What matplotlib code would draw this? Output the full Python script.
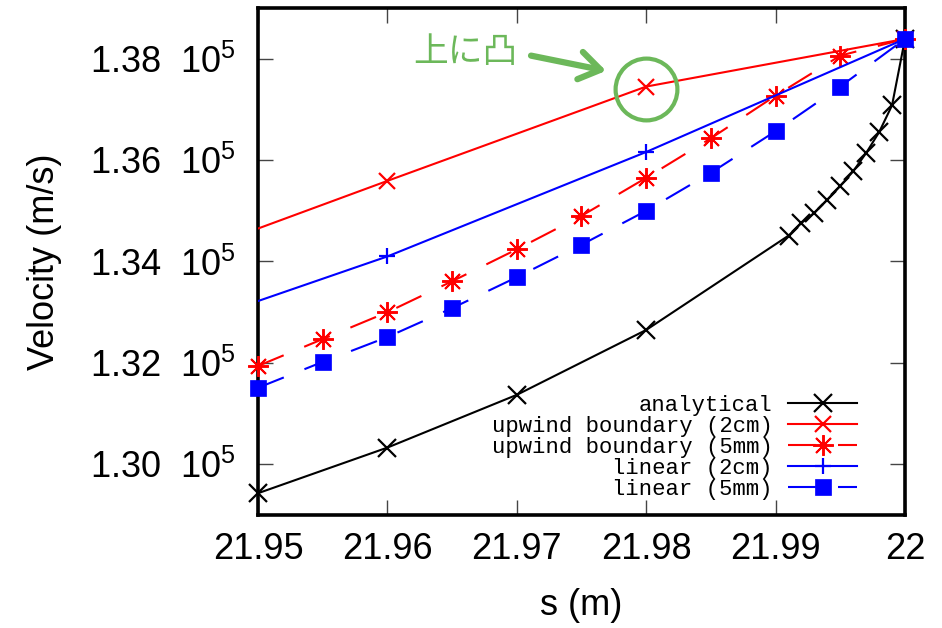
import matplotlib
matplotlib.use("Agg")
import matplotlib.pyplot as plt

plt.rcParams['font.family'] = ['Liberation Sans', 'DejaVu Sans']
plt.rcParams['mathtext.default'] = 'regular'
plt.rcParams['lines.scale_dashes'] = False

# values (velocity in m/s)
s_analytical = [21.95, 21.96, 21.97, 21.98, 21.991, 21.992, 21.993, 21.994,
                21.995, 21.996, 21.997, 21.998, 21.999, 22.0]
v_analytical = [1.2943e5, 1.3033e5, 1.3137e5, 1.3265e5, 1.3451e5, 1.3476e5,
                1.3496e5, 1.3522e5, 1.3549e5, 1.3578e5, 1.3614e5, 1.3655e5,
                1.3708e5, 1.3839e5]

s_2cm = [21.94, 21.96, 21.98, 22.0]
v_upwind_2cm = [1.3371e5, 1.3559e5, 1.3745e5, 1.3839e5]
v_linear_2cm = [1.3234e5, 1.3410e5, 1.3616e5, 1.3839e5]

s_5mm = [21.95, 21.955, 21.96, 21.965, 21.97, 21.975, 21.98, 21.985, 21.99,
         21.995, 22.0]
v_upwind_5mm = [1.3194e5, 1.3247e5, 1.3300e5, 1.3361e5, 1.3424e5, 1.3490e5,
                1.3565e5, 1.3643e5, 1.3727e5, 1.3806e5, 1.3839e5]
v_linear_5mm = [1.3151e5, 1.3202e5, 1.3251e5, 1.3308e5, 1.3369e5, 1.3433e5,
                1.3500e5, 1.3575e5, 1.3657e5, 1.3745e5, 1.3839e5]

x_ticks = [21.95, 21.96, 21.97, 21.98, 21.99, 22.0]
x_labels = ['21.95', '21.96', '21.97', '21.98', '21.99', '22']
y_ticks = [1.30e5, 1.32e5, 1.34e5, 1.36e5, 1.38e5]

green = '#6cb85a'
dash = (20, 16)

fig = plt.figure(figsize=(9.42, 6.28), dpi=100)
ax = fig.add_axes([0.2739, 0.1799, 0.6868, 0.8074])

ax.plot(s_analytical, v_analytical, color='black', lw=1.5, marker='x', ms=12.5,
        mew=1.6, clip_on=False, zorder=3, label='analytical')
ax.plot(s_2cm, v_upwind_2cm, color='red', lw=1.5, marker='x', ms=12, mew=1.6,
        zorder=3, label='upwind boundary (2cm)')
ax.plot(s_5mm, v_upwind_5mm, color='red', lw=1.5, marker=(8, 2, 0), ms=15,
        mew=1.4, dashes=dash, clip_on=False, zorder=3,
        label='upwind boundary (5mm)')
ax.plot(s_2cm, v_linear_2cm, color='blue', lw=1.5, marker='+', ms=12, mew=1.6,
        zorder=3, label='linear (2cm)')
ax.plot(s_5mm, v_linear_5mm, color='blue', lw=1.5, marker='s', ms=11.5,
        mew=0.5, dashes=dash, clip_on=False, zorder=3, label='linear (5mm)')

ax.set_xlim(21.95, 22.0)
ax.set_ylim(1.29e5, 1.39e5)
ax.set_xticks(x_ticks)
ax.set_xticklabels(x_labels)
ax.set_yticks(y_ticks)
ax.set_yticklabels([f"{v / 1e5:.2f}  10$^5$" for v in y_ticks])
ax.tick_params(direction='in', length=11, width=1, color='#444',
               labelsize=26, top=True, right=True)
ax.tick_params(axis='x', pad=12)
ax.tick_params(axis='y', pad=16)
for sp in ax.spines.values():
    sp.set_linewidth(2.6)

ax.set_xlabel('s (m)', fontsize=26, labelpad=15)
ax.set_ylabel('Velocity (m/s)', fontsize=26, labelpad=20)

leg = ax.legend(loc='lower right', bbox_to_anchor=(0.943, 0.008), frameon=False,
                markerfirst=False, numpoints=1, handlelength=3.1,
                handletextpad=0.7, labelspacing=0.0, borderpad=0,
                prop={'family': 'Liberation Mono', 'size': 16})

# annotation: upward convex
ax.text(21.966, 1.3812e5, '上に凸', color=green, fontsize=25,
        family=['Noto Sans CJK JP', 'DejaVu Sans'], ha='center', va='center')
ax.annotate('', xy=(21.9769, 1.3776e5), xytext=(21.9711, 1.3806e5),
            arrowprops=dict(arrowstyle='->,head_length=0.75,head_width=0.5',
                            lw=4.5, color=green, mutation_scale=20,
                            shrinkA=0, shrinkB=0))
ax.plot([21.98], [1.3740e5], marker='o', ms=44.5, mfc='none', mec=green,
        mew=3, ls='none', clip_on=False, zorder=4)

fig.savefig('out.png', dpi=100)
